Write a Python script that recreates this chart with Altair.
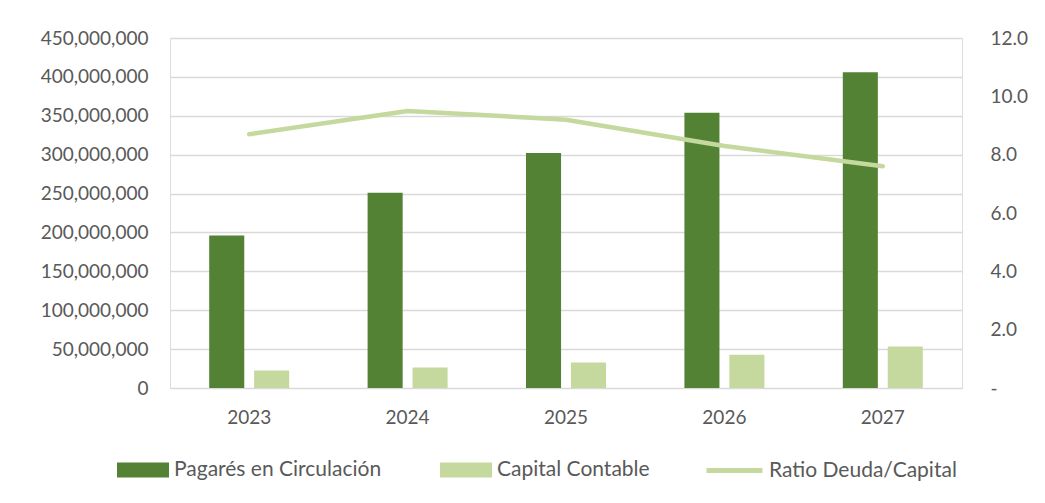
import altair as alt
import pandas as pd

years = ["2023", "2024", "2025", "2026", "2027"]
pagares = [196e6, 251e6, 302e6, 354e6, 406e6]
capital = [22.4e6, 26.3e6, 32.8e6, 42.6e6, 53.4e6]
ratio = [8.7, 9.5, 9.2, 8.3, 7.6]

series_bars = ["Pagarés en Circulación", "Capital Contable"]
series_line = ["Ratio Deuda/Capital"]
left_ticks = [0, 50e6, 100e6, 150e6, 200e6, 250e6, 300e6, 350e6, 400e6, 450e6]
right_ticks = [0, 2, 4, 6, 8, 10, 12]

DARK = "#548235"
LIGHT = "#C5D89D"
TXT = "#595959"
FONT = "Lato"
FS = 19
LFS = 21

rows = []
for yr, p, c in zip(years, pagares, capital):
    rows.append({"year": yr, "serie": series_bars[0], "valor": p})
    rows.append({"year": yr, "serie": series_bars[1], "valor": c})
bars_df = pd.DataFrame(rows)
line_df = pd.DataFrame({"year": years, "serie": series_line[0], "ratio": ratio})

x_enc = alt.X(
    "year:N",
    sort=years,
    scale=alt.Scale(paddingInner=0.495, paddingOuter=0.2475),
    axis=alt.Axis(
        title=None, labelAngle=0, ticks=False, labelPadding=20,
        domainColor="#D9D9D9", domainWidth=1,
        labelFontSize=FS, labelColor=TXT, labelFont=FONT,
    ),
)

bars = alt.Chart(bars_df).mark_bar().encode(
    x=x_enc,
    xOffset=alt.XOffset("serie:N", sort=series_bars,
                        scale=alt.Scale(paddingInner=0.22, paddingOuter=0)),
    y=alt.Y(
        "valor:Q",
        scale=alt.Scale(domain=[0, 450e6], nice=False),
        axis=alt.Axis(
            values=left_ticks, format=",d", title=None, ticks=False, domain=False,
            labelPadding=22, gridColor="#D9D9D9", gridWidth=1.3,
            labelFontSize=FS, labelColor=TXT, labelFont=FONT,
        ),
    ),
    fill=alt.Fill(
        "serie:N", sort=series_bars,
        scale=alt.Scale(domain=series_bars, range=[DARK, LIGHT]),
        legend=alt.Legend(
            title=None, orient="none", legendX=-53, legendY=406,
            direction="horizontal", symbolType="M-1,-0.29H1V0.29H-1Z",
            symbolSize=2704, symbolStrokeWidth=0, labelOffset=5,
            columnPadding=58, labelLimit=600,
            labelFontSize=LFS, labelColor=TXT, labelFont=FONT,
        ),
    ),
)

line = alt.Chart(line_df).mark_line(strokeWidth=4.5, strokeCap="round", strokeJoin="round").encode(
    x=alt.X("year:N", sort=years),
    y=alt.Y(
        "ratio:Q",
        scale=alt.Scale(domain=[0, 12], nice=False),
        axis=alt.Axis(
            orient="right", values=right_ticks, title=None, ticks=False, domain=False,
            grid=False, labelPadding=28,
            labelExpr="datum.value == 0 ? '-' : format(datum.value, '.1f')",
            labelFontSize=FS, labelColor=TXT, labelFont=FONT,
        ),
    ),
    stroke=alt.Stroke(
        "serie:N",
        scale=alt.Scale(domain=series_line, range=[LIGHT]),
        legend=alt.Legend(
            title=None, orient="none", legendX=534, legendY=402,
            direction="horizontal", symbolType="stroke", symbolSize=3136,
            symbolStrokeWidth=5, labelOffset=4, labelLimit=600,
            labelFontSize=LFS, labelColor=TXT, labelFont=FONT,
        ),
    ),
)

chart = (
    alt.layer(bars, line)
    .resolve_scale(y="independent")
    .properties(
        width=792, height=350,
        autosize=alt.AutoSizeParams(type="none"),
        padding={"left": 162, "top": 30, "right": 75, "bottom": 107},
        background="white",
    )
    .configure_view(stroke=None)
    .configure(font=FONT)
)

chart.save("out.html", embed_options={"renderer": "svg", "actions": False})
